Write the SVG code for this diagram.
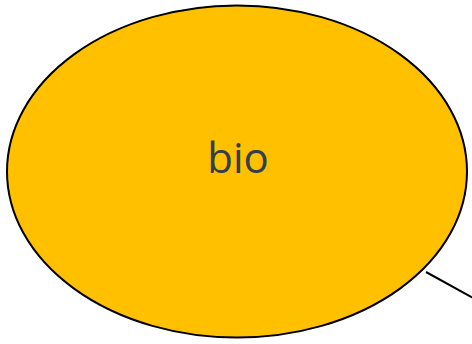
<svg xmlns="http://www.w3.org/2000/svg" width="472" height="344" viewBox="0 0 472 344">
<style>
.node-shape{fill:#FFC000;stroke:#000;stroke-width:2}
.label{font-family:"Open Sans","Noto Sans",sans-serif;font-size:42px;fill:#333F50;text-anchor:middle}
.conn{stroke:#000;stroke-width:2;fill:none}
</style>
<rect width="472" height="344" fill="#fff"/>
<g id="connectors">
<line class="conn" x1="426" y1="272" x2="473" y2="298"/>
</g>
<g id="node-bio">
<ellipse class="node-shape" cx="237" cy="171.5" rx="230" ry="166"/>
<text class="label" x="238" y="172.5">bio</text>
</g>
</svg>
